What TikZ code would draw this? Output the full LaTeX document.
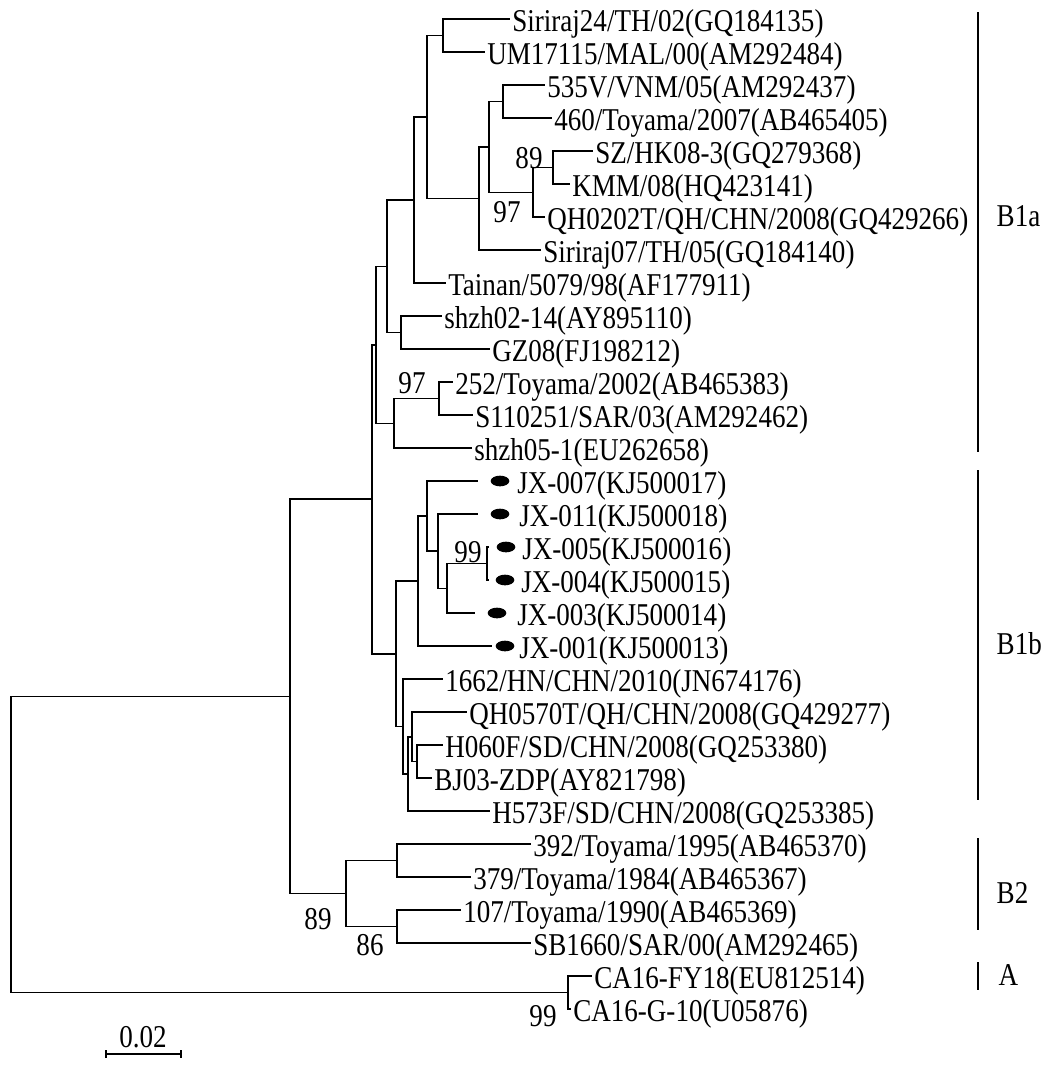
\documentclass[tikz,border=0pt]{standalone}
\usepackage{fontspec}
\setmainfont[FakeStretch=0.853]{Liberation Serif}
\usetikzlibrary{arrows.meta, shapes.geometric}

\begin{document}
\begin{tikzpicture}[
    x=0.75pt, y=-0.75pt,
    every node/.style={font=\fontsize{23.8}{28}\selectfont},
    ast/.style={line width=1.2pt},
    lab/.style={anchor=west, inner xsep=1.5pt, inner ysep=0pt,
                text height=18.8pt, text depth=0pt},
    dot/.style={ellipse, fill=black, inner sep=0pt,
                minimum width=14pt, minimum height=8pt},
    boot/.style={inner sep=0pt},
    bar/.style={line width=1.6pt},
  ]
  \useasboundingbox (0,0) rectangle (1056,1068);

  % innere Knoten
  \coordinate (na) at (443,35.5);
  \coordinate (nb) at (503,101.5);
  \coordinate (nc) at (553,167.5);
  \coordinate (nd) at (533,192.3);
  \coordinate (ne) at (489,146.9);
  \coordinate (nf) at (479,198.4);
  \coordinate (ng) at (427,117.2);
  \coordinate (nh) at (414,200.1);
  \coordinate (ni) at (401,332.5);
  \coordinate (nj) at (387,266.3);
  \coordinate (nk) at (439,398.5);
  \coordinate (nl) at (394,423.3);
  \coordinate (nm) at (376,344.8);
  \coordinate (nn) at (487,563.5);
  \coordinate (no) at (447,588.3);
  \coordinate (np) at (438,551.1);
  \coordinate (nq) at (427,516.1);
  \coordinate (nr) at (418,581.0);
  \coordinate (ns) at (417,761.5);
  \coordinate (nt) at (412,736.8);
  \coordinate (nu) at (408,773.9);
  \coordinate (nv) at (403,726.4);
  \coordinate (nw) at (396,653.7);
  \coordinate (nx) at (372,499.2);
  \coordinate (ny) at (397,860.5);
  \coordinate (nz) at (397,926.5);
  \coordinate (nbz) at (346,893.5);
  \coordinate (nB) at (290,696.4);
  \coordinate (nA) at (568,992.5);
  \coordinate (root) at (11,844.4);

  % Blaetter B1a
  \node[lab] (s1) at (510,19) {Siriraj24/TH/02(GQ184135)};
  \node[lab] (s2) at (485,52) {UM17115/MAL/00(AM292484)};
  \node[lab] (s3) at (545,85) {535V/VNM/05(AM292437)};
  \node[lab] (s4) at (552,118) {460/Toyama/2007(AB465405)};
  \node[lab] (s5) at (593,151) {SZ/HK08-3(GQ279368)};
  \node[lab] (s6) at (570,184) {KMM/08(HQ423141)};
  \node[lab] (s7) at (545,217) {QH0202T/QH/CHN/2008(GQ429266)};
  \node[lab] (s8) at (541,250) {Siriraj07/TH/05(GQ184140)};
  \node[lab] (s9) at (446,283) {Tainan/5079/98(AF177911)};
  \node[lab] (s10) at (442,316) {shzh02-14(AY895110)};
  \node[lab] (s11) at (490,349) {GZ08(FJ198212)};
  \node[lab] (s12) at (453,382) {252/Toyama/2002(AB465383)};
  \node[lab] (s13) at (473,415) {S110251/SAR/03(AM292462)};
  \node[lab] (s14) at (472,448) {shzh05-1(EU262658)};

  % Blaetter B1b (eigene Isolate mit Punkt)
  \coordinate (e15) at (478,481);
  \coordinate (e16) at (478,514);
  \coordinate (e17) at (489,547);
  \coordinate (e18) at (489,580);
  \coordinate (e19) at (475,613);
  \coordinate (e20) at (492,646);
  \node[dot] (d15) at (500,481) {};
  \node[dot] (d16) at (500,514) {};
  \node[dot] (d17) at (506,547) {};
  \node[dot] (d18) at (505,580) {};
  \node[dot] (d19) at (497,613) {};
  \node[dot] (d20) at (505,646) {};
  \node[lab] (s15) at (515,481) {JX-007(KJ500017)};
  \node[lab] (s16) at (517,514) {JX-011(KJ500018)};
  \node[lab] (s17) at (520,547) {JX-005(KJ500016)};
  \node[lab] (s18) at (519,580) {JX-004(KJ500015)};
  \node[lab] (s19) at (515,613) {JX-003(KJ500014)};
  \node[lab] (s20) at (517,646) {JX-001(KJ500013)};
  \node[lab] (s21) at (443,679) {1662/HN/CHN/2010(JN674176)};
  \node[lab] (s22) at (467,712) {QH0570T/QH/CHN/2008(GQ429277)};
  \node[lab] (s23) at (443,745) {H060F/SD/CHN/2008(GQ253380)};
  \node[lab] (s24) at (432,778) {BJ03-ZDP(AY821798)};
  \node[lab] (s25) at (490,811) {H573F/SD/CHN/2008(GQ253385)};

  % Blaetter B2 und A
  \node[lab] (s26) at (531,844) {392/Toyama/1995(AB465370)};
  \node[lab] (s27) at (471,877) {379/Toyama/1984(AB465367)};
  \node[lab] (s28) at (461,910) {107/Toyama/1990(AB465369)};
  \node[lab] (s29) at (531,943) {SB1660/SAR/00(AM292465)};
  \node[lab] (s30) at (592,976) {CA16-FY18(EU812514)};
  \node[lab] (s31) at (571,1009) {CA16-G-10(U05876)};

  % Aeste
  \foreach \p/\c in {na/s1.west, na/s2.west, nb/s3.west, nb/s4.west,
      nc/s5.west, nc/s6.west, nd/nc, nd/s7.west, ne/nb, ne/nd,
      nf/ne, nf/s8.west, ng/na, ng/nf, nh/ng, nh/s9.west,
      ni/s10.west, ni/s11.west, nj/nh, nj/ni, nk/s12.west, nk/s13.west,
      nl/nk, nl/s14.west, nm/nj, nm/nl,
      nn/e17, nn/e18, no/nn, no/e19, np/e16, np/no, nq/e15, nq/np,
      nr/nq, nr/e20, ns/s23.west, ns/s24.west, nt/s22.west, nt/ns,
      nu/nt, nu/s25.west, nv/s21.west, nv/nu, nw/nr, nw/nv,
      nx/nm, nx/nw, ny/s26.west, ny/s27.west, nz/s28.west, nz/s29.west,
      nbz/ny, nbz/nz, nB/nx, nB/nbz, nA/s30.west, nA/s31.west,
      root/nB, root/nA}
    \draw[ast] (\p) |- (\c);

  % Bootstrap-Werte
  \node[boot] (b1) at (529,158) {89};
  \node[boot] (b2) at (507,212) {97};
  \node[boot] (b3) at (412,383) {97};
  \node[boot] (b4) at (468,552) {99};
  \node[boot] (b5) at (318,919) {89};
  \node[boot] (b6) at (370,945) {86};
  \node[boot] (b7) at (543,1016) {99};

  % Gruppen
  \draw[bar] (978,12) -- (978,452);
  \draw[bar] (978,470) -- (978,800);
  \draw[bar] (978,838) -- (978,930);
  \draw[bar] (978,962) -- (978,990);
  \node[anchor=west] (g1) at (992,216) {B1a};
  \node[anchor=west] (g2) at (992,644) {B1b};
  \node[anchor=west] (g3) at (992,893) {B2};
  \node[anchor=west] (g4) at (994,975) {A};

  % Massstab
  \coordinate (m1) at (105,1054);
  \coordinate (m2) at (182,1054);
  \draw[ast, {Bar[width=6pt]}-{Bar[width=6pt]}] (m1) -- (m2);
  \node[boot] (m0) at (143,1037) {0.02};
\end{tikzpicture}
\end{document}
